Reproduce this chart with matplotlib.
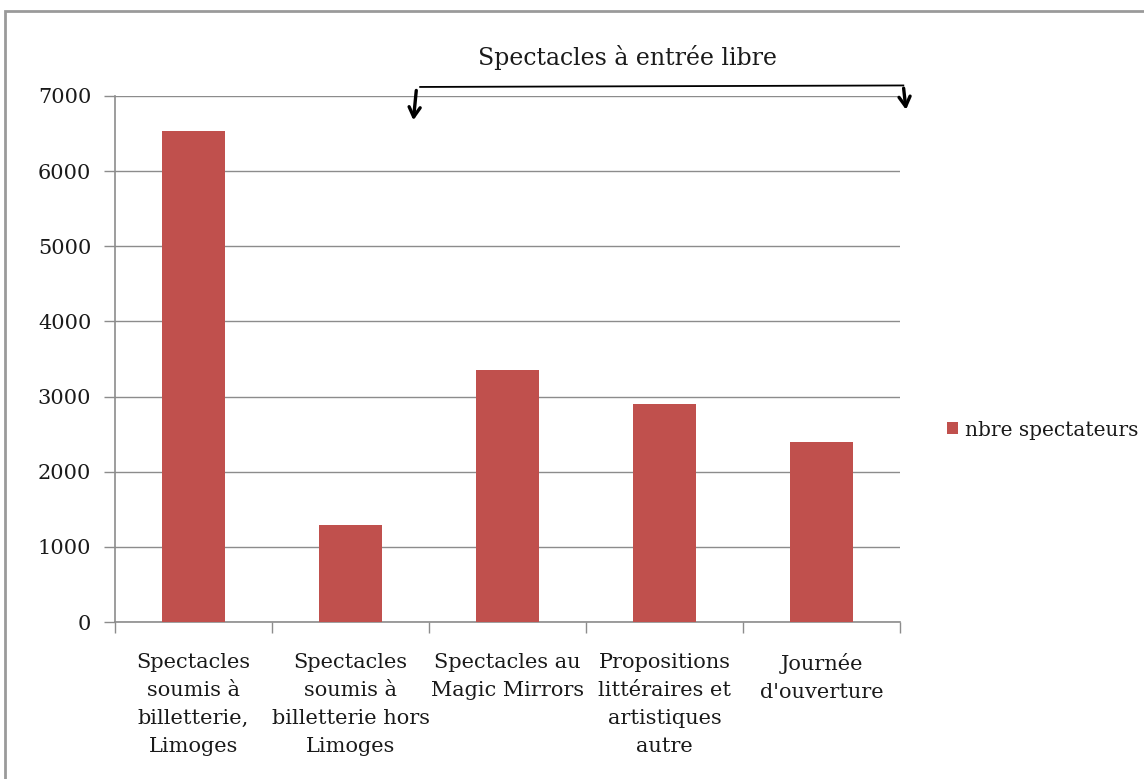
import numpy as np
import matplotlib
matplotlib.use('Agg')
import matplotlib.pyplot as plt
from matplotlib.patches import Rectangle

categories = ["Spectacles\nsoumis à\nbilletterie,\nLimoges",
              "Spectacles\nsoumis à\nbilletterie hors\nLimoges",
              "Spectacles au\nMagic Mirrors",
              "Propositions\nlittéraires et\nartistiques\nautre",
              "Journée\nd'ouverture"]
spectateurs = [6540, 1290, 3350, 2900, 2400]
series_name = "nbre spectateurs"
bracket_label = "Spectacles à entrée libre"
yticks = [0, 1000, 2000, 3000, 4000, 5000, 6000, 7000]

plt.rcParams['font.family'] = ['DejaVu Serif']
bar_color = '#C0504D'
grid_color = '#8c8c8c'
text_color = '#1a1a1a'

fig = plt.figure(figsize=(11.44, 7.79), dpi=100)
ax = fig.add_axes([0.1005, 0.2015, 0.6865, 0.6753])

x = np.arange(len(categories))
ax.bar(x, spectateurs, width=0.4, color=bar_color, label=series_name, zorder=3)

ax.set_xlim(-0.5, len(categories) - 0.5)
ax.set_ylim(0, 7000)
ax.set_yticks(yticks)
ax.yaxis.grid(True, color=grid_color, lw=1.0, zorder=0)
ax.tick_params(axis='y', length=8, width=1, color=grid_color, pad=9,
               labelsize=15, labelcolor=text_color)
ax.set_xticks(x)
ax.set_xticklabels(categories, fontsize=15, linespacing=1.6, color=text_color)
ax.set_xticks(np.arange(-0.5, len(categories), 1.0), minor=True)
ax.tick_params(axis='x', which='major', length=0, pad=22)
ax.tick_params(axis='x', which='minor', length=8, width=1, color=grid_color)
for s in ['top', 'right']:
    ax.spines[s].set_visible(False)
for s in ['left', 'bottom']:
    ax.spines[s].set_color(grid_color)
    ax.spines[s].set_linewidth(1.2)

# bracket over the free-entry shows
ax.plot([1.443, 4.519], [7120, 7140], color='black', lw=1.3, clip_on=False)
ax.annotate('', xy=(1.398, 6640), xytext=(1.42, 7110), xycoords='data',
            arrowprops=dict(arrowstyle='->, head_length=0.7, head_width=0.4',
                            color='black', lw=2.4), annotation_clip=False)
ax.annotate('', xy=(4.538, 6780), xytext=(4.519, 7140), xycoords='data',
            arrowprops=dict(arrowstyle='->, head_length=0.7, head_width=0.4',
                            color='black', lw=2.4), annotation_clip=False)
ax.text(2.76, 7510, bracket_label, ha='center', va='center', fontsize=17,
        color=text_color, clip_on=False)

fig.legend(loc='center left', bbox_to_anchor=(0.812, 0.448), frameon=False,
           handlelength=0.55, handleheight=0.55, handletextpad=0.35, fontsize=14.5,
           labelcolor=text_color)

# frame of the original screenshot
fig.patches.append(Rectangle((0.0045, -0.1), 1.2, 1.086, transform=fig.transFigure,
                             fill=False, edgecolor='#9a9a9a', lw=2))

fig.savefig('out.png', dpi=100)
